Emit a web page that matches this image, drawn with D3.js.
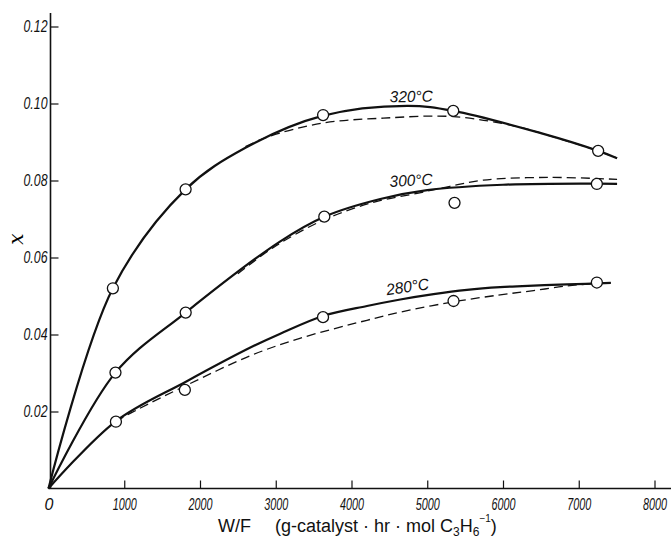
<!DOCTYPE html>
<html>
<head>
<meta charset="utf-8">
<script src="https://cdn.jsdelivr.net/npm/d3@7"></script>
<style>
  body { margin: 0; background: #fff; }
  svg { display: block; }
  .lbl { font-family: "Liberation Sans", sans-serif; fill: #111; }
</style>
</head>
<body>
<svg id="chart" width="671" height="546"></svg>
<script>
// valori
const xTicks = [0, 1000, 2000, 3000, 4000, 5000, 6000, 7000, 8000];
const yTicks = [0.02, 0.04, 0.06, 0.08, 0.10, 0.12];

// punti sperimentali [W/F, x]
const points320 = [[850, 0.0520], [1810, 0.0777], [3625, 0.0970], [5343, 0.0981], [7256, 0.0877]];
const points300 = [[884, 0.0301], [1811, 0.0457], [3641, 0.0706], [5360, 0.0742], [7239, 0.0791]];
const points280 = [[890, 0.01735], [1800, 0.0256], [3624, 0.0445], [5347, 0.0487], [7239, 0.0535]];

// curve continue
const solid320 = [[0, 0], [850, 0.0520], [1810, 0.0777], [2600, 0.0885], [3615, 0.0968],
  [4736, 0.0994], [5343, 0.0981], [6500, 0.0923], [7256, 0.0877], [7506, 0.0858]];
const solid300 = [[0, 0], [884, 0.0301], [1811, 0.0457], [3060, 0.0642], [3641, 0.0706],
  [4380, 0.0752], [5000, 0.0775], [6000, 0.0789], [7250, 0.0792], [7506, 0.0791]];
const solid280 = [[0, 0], [884, 0.0174], [1820, 0.0278], [2665, 0.0366], [3060, 0.0402], [3624, 0.0448],
  [4204, 0.0474], [4644, 0.0491], [5083, 0.0505], [5524, 0.0516], [5963, 0.0523], [6403, 0.0527],
  [6843, 0.0530], [7423, 0.0534]];

// curve tratteggiate
const dashed320 = [[2600, 0.0888], [2890, 0.0913], [3615, 0.0949], [4420, 0.0962], [5343, 0.0966],
  [6187, 0.0940], [6500, 0.0923], [7256, 0.0877], [7506, 0.0858]];
const dashed300 = [[2500, 0.0558], [3000, 0.0630], [3640, 0.0698], [4300, 0.0744], [4900, 0.0768],
  [5300, 0.0785], [5738, 0.0801], [6622, 0.0808], [7506, 0.0803]];
const dashed280 = [[884, 0.0174], [1174, 0.0205], [1820, 0.0268], [2665, 0.0345], [3318, 0.0390],
  [4204, 0.0437], [4644, 0.0458], [5347, 0.0485], [5963, 0.0503], [6403, 0.0514], [6843, 0.0526],
  [7190, 0.0532], [7423, 0.0534]];

const labels = [
  { text: "320°C", x: 4790, y: 0.1004, rot: -1 },
  { text: "300°C", x: 4790, y: 0.0786, rot: -3 },
  { text: "280°C", x: 4750, y: 0.0510, rot: -8 }
];

const svg = d3.select("#chart");

const x = d3.scaleLinear().domain([0, 8000]).range([48.5, 654.5]);
const y = d3.scaleLinear().domain([0, 0.12]).range([488.5, 26.5]);

// stile comune delle etichette dei tick
function styleTickText(sel, len) {
  sel.style("font-family", "'Liberation Sans', sans-serif")
    .style("font-style", "italic")
    .style("font-size", "16px")
    .attr("fill", "#111");
  if (len) sel.attr("textLength", len).attr("lengthAdjust", "spacingAndGlyphs");
}

// assi
const xAxis = svg.append("g")
  .attr("transform", `translate(0,${y(0)})`)
  .call(d3.axisBottom(x).tickValues(xTicks).tickSize(-8).tickPadding(6)
    .tickFormat((d) => d3.format("d")(d)));
xAxis.select(".domain").remove();
xAxis.selectAll(".tick line").attr("stroke", "#111").attr("stroke-width", 1.2);
xAxis.selectAll(".tick").filter((d) => d === 0).select("line").remove();
xAxis.selectAll(".tick text").attr("dy", "0.95em");
styleTickText(xAxis.selectAll(".tick text").filter((d) => d === 0), null);
styleTickText(xAxis.selectAll(".tick text").filter((d) => d > 0), 24);

const yAxis = svg.append("g")
  .attr("transform", `translate(${x(0) + 2},0)`)
  .call(d3.axisLeft(y).tickValues(yTicks).tickSize(-8).tickPadding(3)
    .tickFormat(d3.format(".2f")));
yAxis.select(".domain").remove();
yAxis.selectAll(".tick line").attr("stroke", "#111").attr("stroke-width", 1.2);
styleTickText(yAxis.selectAll(".tick text"), 24);

svg.append("line")
  .attr("x1", x(0) + 2).attr("x2", x(0) + 2)
  .attr("y1", 13).attr("y2", y(0))
  .attr("stroke", "#111").attr("stroke-width", 1.6);
svg.append("line")
  .attr("x1", x(0)).attr("x2", 671)
  .attr("y1", y(0)).attr("y2", y(0))
  .attr("stroke", "#111").attr("stroke-width", 1.6);

// curve
const line = d3.line()
  .x((d) => x(d[0]))
  .y((d) => y(d[1]))
  .curve(d3.curveCatmullRom.alpha(0.5));

[dashed320, dashed300, dashed280].forEach((data) => {
  svg.append("path")
    .attr("d", line(data))
    .attr("fill", "none")
    .attr("stroke", "#111")
    .attr("stroke-width", 1.3)
    .attr("stroke-dasharray", "9,5");
});

[solid320, solid300, solid280].forEach((data) => {
  svg.append("path")
    .attr("d", line(data))
    .attr("fill", "none")
    .attr("stroke", "#111")
    .attr("stroke-width", 2.2);
});

// punti
[points320, points300, points280].forEach((data) => {
  svg.append("g").selectAll("circle")
    .data(data)
    .enter()
    .append("circle")
    .attr("cx", (d) => x(d[0]))
    .attr("cy", (d) => y(d[1]))
    .attr("r", 5.5)
    .attr("fill", "#fff")
    .attr("stroke", "#111")
    .attr("stroke-width", 1.3);
});

// etichette temperature
svg.append("g").selectAll("text")
  .data(labels)
  .enter()
  .append("text")
  .attr("class", "lbl")
  .attr("font-size", 16)
  .attr("font-style", "italic")
  .attr("text-anchor", "middle")
  .attr("textLength", 43)
  .attr("lengthAdjust", "spacingAndGlyphs")
  .attr("transform", (d) => `translate(${x(d.x)},${y(d.y)}) rotate(${d.rot})`)
  .text((d) => d.text);

// titolo asse y
svg.append("text")
  .attr("font-family", "'DejaVu Serif', serif")
  .attr("font-style", "italic")
  .attr("font-size", 20)
  .attr("text-anchor", "middle")
  .attr("transform", "translate(23,239) rotate(-90)")
  .text("x");

// titolo asse x
const xt = svg.append("text")
  .attr("class", "lbl")
  .attr("font-size", 18)
  .attr("x", 218)
  .attr("y", 532);
xt.append("tspan").text("W/F");
xt.append("tspan").attr("dx", 24).text("(g-catalyst · hr · mol C");
xt.append("tspan").attr("font-size", 12).attr("dy", 4).text("3");
xt.append("tspan").attr("dy", -4).text("H");
xt.append("tspan").attr("font-size", 12).attr("dy", 4).text("6");
xt.append("tspan").attr("font-size", 10).attr("dx", 0).attr("dy", -14).text("−1");
xt.append("tspan").attr("dy", 10).text(")");
</script>
</body>
</html>
